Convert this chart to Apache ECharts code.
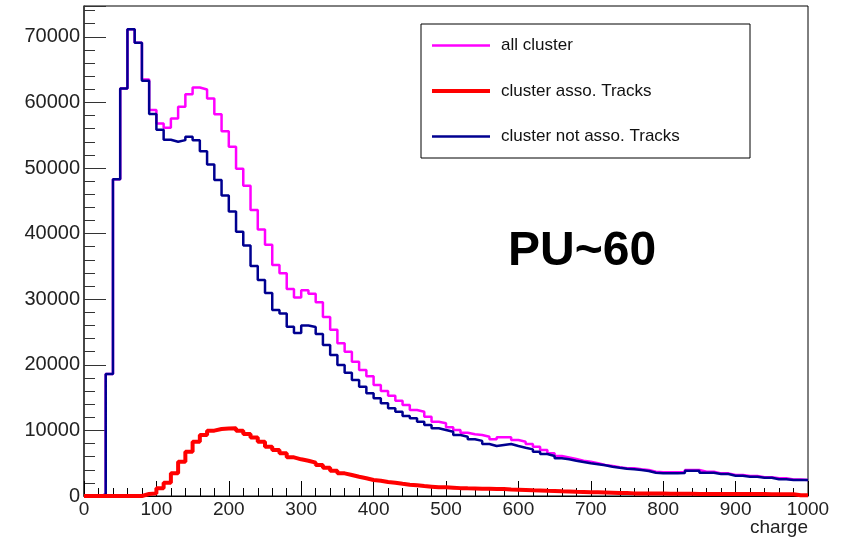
<!DOCTYPE html>
<html>
<head>
<meta charset="utf-8">
<script src="https://cdn.jsdelivr.net/npm/echarts@6/dist/echarts.min.js"></script>
<style>
html,body{margin:0;padding:0;background:#fff;}
#chart{width:851px;height:538px;}
</style>
</head>
<body>
<div id="chart"></div>
<script>
// Histogram: 100 bins of width 10 over charge 0..1000
const binEdges = Array.from({length: 101}, (_, i) => i * 10);

const seriesNames = ['all cluster', 'cluster asso. Tracks', 'cluster not asso. Tracks'];

const allCluster = [
  0, 0, 200, 18590, 48270, 62130, 71150, 69090, 63500, 58830,
  56800, 56130, 57560, 59330, 61260, 62280, 61980, 60610, 58200, 55600,
  53240, 49900, 47300, 43590, 40640, 38300, 35200, 33940, 31550, 30250,
  31350, 30850, 29530, 27280, 25360, 23270, 21990, 20470, 19200, 18240,
  16920, 16000, 15290, 14520, 13870, 13110, 12850, 12090, 11320, 11080,
  10470, 10060, 9650, 9400, 9300, 9040, 8640, 8950, 8950, 8530,
  8280, 7920, 7510, 7010, 6500, 6100, 5890, 5640, 5380, 5230,
  4980, 4720, 4570, 4370, 4220, 4220, 4070, 3960, 3700, 3610,
  3610, 3610, 3650, 3960, 3960, 3700, 3700, 3450, 3450, 3200,
  3200, 3050, 3050, 2850, 2850, 2700, 2700, 2500, 2500, 2450
];

const assoTracks = [
  0, 0, 0, 0, 0, 0, 0, 0, 300, 400,
  1170, 2030, 3450, 5230, 6750, 8280, 9300, 9960, 10210, 10300,
  10310, 9960, 9450, 8900, 8280, 7500, 7010, 6500, 5890, 5590,
  5380, 5080, 4720, 4310, 3860, 3450, 3200, 2940, 2700, 2440,
  2330, 2130, 2030, 1870, 1720, 1630, 1520, 1420, 1320, 1320,
  1270, 1200, 1170, 1150, 1120, 1100, 1080, 1050, 1000, 960,
  920, 880, 850, 800, 760, 720, 690, 650, 620, 590,
  560, 530, 500, 470, 440, 400, 400, 390, 380, 370,
  360, 350, 340, 330, 320, 320, 310, 310, 300, 300,
  300, 300, 290, 290, 280, 280, 270, 270, 100, 100
];

const notAssoTracks = [
  0, 0, 200, 18590, 48270, 62130, 71150, 69090, 63300, 58220,
  55830, 54300, 54000, 54250, 54760, 54220, 52550, 50520, 48160, 45800,
  43360, 40280, 38170, 35050, 32920, 30930, 28350, 27840, 25800, 24850,
  25980, 25760, 24690, 23010, 21490, 19970, 18790, 17680, 16660, 15650,
  14890, 14130, 13370, 12850, 12190, 11840, 11320, 10820, 10320, 10060,
  9800, 9300, 9040, 8650, 8400, 7920, 7620, 7770, 7920, 7620,
  7360, 7110, 6750, 6400, 6100, 5740, 5590, 5380, 5180, 4980,
  4830, 4680, 4470, 4310, 4160, 4070, 3960, 3810, 3550, 3450,
  3450, 3450, 3500, 3860, 3860, 3550, 3550, 3350, 3350, 3100,
  3100, 2940, 2940, 2790, 2790, 2540, 2540, 2440, 2440, 2440
];

const xTickInterval = 100;
const yTickInterval = 10000;
const yMax = 74700;
const annotation = 'PU~60';
const xAxisTitle = 'charge';

function histData(vals) {
  return binEdges.map((x, i) => [x, vals[Math.min(i, vals.length - 1)]]);
}

const FONT = 'Liberation Sans, Arial, Helvetica, sans-serif';
const plainNum = v => String(Math.round(v));
// legend line-sample icons (bbox 58x16, horizontal bar in the middle)
const thinLine = 'path://M0,0M58,16M0,6.8L58,6.8L58,9.2L0,9.2Z';
const thickLine = 'path://M0,0M58,16M0,6L58,6L58,10L0,10Z';

const chart = echarts.init(document.getElementById('chart'), null, {renderer: 'canvas'});

const option = {
  animation: false,
  backgroundColor: '#fff',
  title: [
    {
      text: annotation,
      left: 503,
      top: 223,
      textStyle: {fontSize: 48, fontWeight: 'bold', color: '#000', fontFamily: FONT}
    },
    {
      text: xAxisTitle,
      right: 43,
      top: 518,
      padding: 0,
      textStyle: {fontSize: 19, fontWeight: 'normal', color: '#222', fontFamily: FONT}
    }
  ],
  legend: {
    orient: 'vertical',
    left: 421,
    top: 24,
    padding: [13, 10, 13, 11],
    itemWidth: 58,
    itemHeight: 16,
    itemGap: 28.5,
    borderColor: '#000',
    borderWidth: 1,
    backgroundColor: '#fff',
    data: [
      {name: seriesNames[0], icon: thinLine},
      {name: seriesNames[1], icon: thickLine},
      {name: seriesNames[2], icon: thinLine}
    ],
    textStyle: {fontSize: 17, color: '#111', fontFamily: FONT, width: 239, padding: [0, 0, 0, 6], lineHeight: 16}
  },
  grid: {
    left: 84, right: 43, top: 6, bottom: 42,
    show: true, borderColor: '#000', borderWidth: 1,
    outerBoundsMode: 'none'
  },
  xAxis: {
    type: 'value', min: 0, max: 1000, interval: xTickInterval,
    axisLine: {lineStyle: {color: '#000', width: 1}},
    axisTick: {inside: true, length: 15, lineStyle: {color: '#000'}},
    minorTick: {show: true, splitNumber: 5, length: 8, lineStyle: {color: '#000'}},
    splitLine: {show: false},
    axisLabel: {fontSize: 19, color: '#222', margin: 4, fontFamily: FONT, formatter: plainNum}
  },
  yAxis: {
    type: 'value', min: 0, max: yMax, interval: yTickInterval,
    axisLine: {show: true, lineStyle: {color: '#333', width: 1.5}},
    axisTick: {inside: true, length: 22, lineStyle: {color: '#333'}},
    minorTick: {show: true, splitNumber: 5, length: 11, lineStyle: {color: '#333'}},
    splitLine: {show: false},
    axisLabel: {fontSize: 20, color: '#222', margin: 4, fontFamily: FONT, showMaxLabel: false, formatter: plainNum}
  },
  series: [
    {
      name: seriesNames[0], type: 'line', step: 'end', symbol: 'none', showSymbol: false,
      data: histData(allCluster), z: 2,
      lineStyle: {color: '#ff00ff', width: 2.5}, itemStyle: {color: '#ff00ff'}
    },
    {
      name: seriesNames[2], type: 'line', step: 'end', symbol: 'none', showSymbol: false,
      data: histData(notAssoTracks), z: 3,
      lineStyle: {color: '#000090', width: 2.5}, itemStyle: {color: '#000090'}
    },
    {
      name: seriesNames[1], type: 'line', step: 'end', symbol: 'none', showSymbol: false,
      data: histData(assoTracks), z: 4,
      lineStyle: {color: '#ff0000', width: 4}, itemStyle: {color: '#ff0000'}
    }
  ]
};
chart.setOption(option);
</script>
</body>
</html>
